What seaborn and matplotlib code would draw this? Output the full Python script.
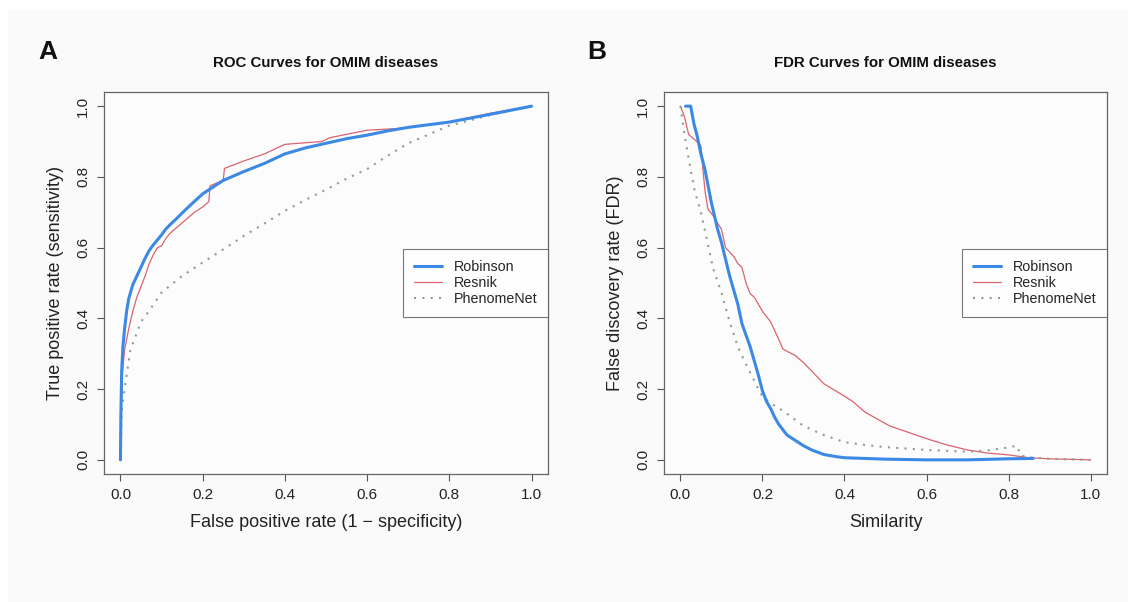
import numpy as np
import pandas as pd
import matplotlib
matplotlib.use("Agg")
import matplotlib.pyplot as plt
import seaborn as sns
from matplotlib.patches import Rectangle

# ---------------- data ----------------
roc_rob_x = [0, 0.001, 0.003, 0.006, 0.01, 0.015, 0.02, 0.03, 0.04, 0.05, 0.06, 0.07, 0.08, 0.09,
             0.1, 0.11, 0.12, 0.13, 0.14, 0.15, 0.17, 0.2, 0.25, 0.3, 0.35, 0.4, 0.45, 0.5, 0.55,
             0.6, 0.65, 0.7, 0.8, 0.9, 1.0]
roc_rob_y = [0, 0.12, 0.25, 0.32, 0.37, 0.42, 0.455, 0.495, 0.52, 0.545, 0.57, 0.592, 0.608, 0.622,
             0.636, 0.652, 0.664, 0.675, 0.686, 0.698, 0.72, 0.752, 0.79, 0.815, 0.838, 0.865, 0.882,
             0.895, 0.908, 0.918, 0.93, 0.94, 0.955, 0.977, 1.0]

roc_res_x = [0, 0.002, 0.005, 0.01, 0.02, 0.03, 0.04, 0.05, 0.06, 0.07, 0.08, 0.09, 0.1, 0.11, 0.12,
             0.15, 0.18, 0.2, 0.215, 0.218, 0.25, 0.253, 0.3, 0.35, 0.4, 0.49, 0.51, 0.6, 0.68,
             0.8, 0.9, 1.0]
roc_res_y = [0, 0.15, 0.25, 0.31, 0.37, 0.42, 0.46, 0.49, 0.52, 0.555, 0.58, 0.6, 0.605, 0.625,
             0.64, 0.67, 0.7, 0.715, 0.73, 0.775, 0.79, 0.824, 0.845, 0.865, 0.892, 0.9, 0.911,
             0.932, 0.937, 0.955, 0.98, 1.0]

roc_phe_x = [0, 0.003, 0.01, 0.024, 0.05, 0.075, 0.1, 0.15, 0.2, 0.25, 0.3, 0.35, 0.4, 0.45, 0.51,
             0.55, 0.6, 0.65, 0.7, 0.8, 0.9, 1.0]
roc_phe_y = [0, 0.14, 0.2, 0.31, 0.39, 0.43, 0.473, 0.52, 0.558, 0.595, 0.633, 0.668, 0.704, 0.735,
             0.77, 0.795, 0.822, 0.86, 0.895, 0.945, 0.975, 1.0]

fdr_rob_x = [0.0125, 0.025, 0.033, 0.04, 0.05, 0.06, 0.075, 0.09, 0.1, 0.12, 0.14, 0.15, 0.17, 0.19,
             0.2, 0.21, 0.22, 0.23, 0.24, 0.25, 0.26, 0.28, 0.3, 0.32, 0.35, 0.38, 0.4, 0.5, 0.6,
             0.7, 0.8, 0.86]
fdr_rob_y = [1.0, 1.0, 0.95, 0.92, 0.865, 0.82, 0.73, 0.655, 0.615, 0.52, 0.44, 0.385, 0.32, 0.24,
             0.195, 0.165, 0.145, 0.12, 0.1, 0.085, 0.07, 0.055, 0.04, 0.028, 0.015, 0.009, 0.006,
             0.002, 0.0, 0.0, 0.003, 0.004]

fdr_res_x = [0, 0.01, 0.02, 0.04, 0.05, 0.055, 0.06, 0.067, 0.08, 0.1, 0.11, 0.13, 0.14, 0.15, 0.16,
             0.17, 0.18, 0.2, 0.22, 0.24, 0.25, 0.28, 0.3, 0.35, 0.4, 0.42, 0.45, 0.51, 0.55, 0.6,
             0.65, 0.7, 0.75, 0.8, 0.85, 0.9, 1.0]
fdr_res_y = [1.0, 0.97, 0.92, 0.9, 0.888, 0.82, 0.76, 0.709, 0.69, 0.652, 0.6, 0.575, 0.555, 0.544,
             0.5, 0.47, 0.46, 0.42, 0.39, 0.34, 0.313, 0.295, 0.275, 0.215, 0.18, 0.165, 0.135, 0.096,
             0.08, 0.06, 0.042, 0.028, 0.019, 0.014, 0.006, 0.003, 0.0]

fdr_phe_x = [0, 0.01, 0.025, 0.035, 0.05, 0.065, 0.08, 0.1, 0.12, 0.14, 0.16, 0.188, 0.2, 0.22, 0.25,
             0.3, 0.35, 0.4, 0.45, 0.5, 0.6, 0.7, 0.75, 0.8, 0.82, 0.83, 0.86, 0.9, 1.0]
fdr_phe_y = [1.0, 0.92, 0.82, 0.76, 0.7, 0.62, 0.54, 0.473, 0.39, 0.32, 0.27, 0.205, 0.18, 0.16, 0.139,
             0.096, 0.07, 0.05, 0.042, 0.036, 0.028, 0.023, 0.027, 0.035, 0.04, 0.012, 0.006, 0.003, 0.0]

series_names = ["Robinson", "Resnik", "PhenomeNet"]
tick_vals = [0.0, 0.2, 0.4, 0.6, 0.8, 1.0]
tick_labels = ["0.0", "0.2", "0.4", "0.6", "0.8", "1.0"]

# ---------------- style ----------------
sns.set_theme(style="white")
plt.rcParams['font.family'] = ['Liberation Sans', 'DejaVu Sans']

colors = {"Robinson": "#3b89e4", "Resnik": "#d9636e", "PhenomeNet": "#8e9e8c"}
widths = {"Robinson": 2.2, "Resnik": 0.9, "PhenomeNet": 1.5}
dashes = {"Robinson": "-", "Resnik": "-", "PhenomeNet": (0, (1, 3.0))}

fig = plt.figure(figsize=(11.28, 6.02), dpi=100)
fig.patch.set_facecolor("white")
fig.add_artist(Rectangle((8 / 1128, 0), 1, 1 - 10 / 602, transform=fig.transFigure,
                         facecolor="#fafafa", edgecolor="none", zorder=-10))

W, H = 1128, 602
def add_ax(l, r, t, b):
    return fig.add_axes([l / W, 1 - b / H, (r - l) / W, (b - t) / H])

ax1 = add_ax(104, 548, 92, 474)
ax2 = add_ax(664, 1107, 92, 474)

def make_df(xs, ys):
    frames = []
    for name, x, y in zip(series_names, xs, ys):
        frames.append(pd.DataFrame({"x": x, "y": y, "method": name}))
    return pd.concat(frames, ignore_index=True)

roc_df = make_df([roc_rob_x, roc_res_x, roc_phe_x], [roc_rob_y, roc_res_y, roc_phe_y])
fdr_df = make_df([fdr_rob_x, fdr_res_x, fdr_phe_x], [fdr_rob_y, fdr_res_y, fdr_phe_y])

def draw(ax, df, title, xlabel, ylabel):
    ax.set_facecolor("#fcfcfc")
    for name in series_names:
        sub = df[df.method == name]
        sns.lineplot(data=sub, x="x", y="y", ax=ax, sort=False, estimator=None,
                     color=colors[name], linewidth=widths[name], linestyle=dashes[name],
                     label=name, zorder=3 if name == "Robinson" else 2)
    ax.set_xlim(-0.04, 1.04)
    ax.set_ylim(-0.04, 1.04)
    ax.set_xticks(tick_vals)
    ax.set_xticklabels(tick_labels, fontsize=11, color="#222222")
    ax.set_yticks(tick_vals)
    ax.set_yticklabels(tick_labels, fontsize=11, color="#222222", rotation=90, va="center")
    ax.tick_params(axis="both", direction="out", length=5, width=0.8, color="#555555",
                   bottom=True, left=True, pad=5)
    for s in ax.spines.values():
        s.set_color("#666666")
        s.set_linewidth(0.9)
    ax.set_xlabel(xlabel, fontsize=13, color="#222222", labelpad=9)
    ax.set_ylabel(ylabel, fontsize=13, color="#222222", labelpad=9)
    ax.set_title(title, fontsize=10.8, fontweight="bold", color="#111111", pad=18)
    leg = ax.legend(loc="center right", bbox_to_anchor=(1.0, 0.5), fontsize=10.25,
                    frameon=True, fancybox=False, handlelength=1.97, borderpad=0.75,
                    labelspacing=0.17, handletextpad=0.82, borderaxespad=0)
    leg.get_frame().set_edgecolor("#555555")
    leg.get_frame().set_linewidth(0.8)
    leg.get_frame().set_facecolor("white")

draw(ax1, roc_df, "ROC Curves for OMIM diseases", "False positive rate (1 \u2212 specificity)",
     "True positive rate (sensitivity)")
draw(ax2, fdr_df, "FDR Curves for OMIM diseases", "Similarity", "False discovery rate (FDR)")

fig.text(38 / W, 1 - 52 / H, "A", fontsize=19, fontweight="bold", va="center", ha="left", color="#111111")
fig.text(587 / W, 1 - 52 / H, "B", fontsize=19, fontweight="bold", va="center", ha="left", color="#111111")

fig.savefig("out.png", dpi=100, facecolor=fig.get_facecolor())
